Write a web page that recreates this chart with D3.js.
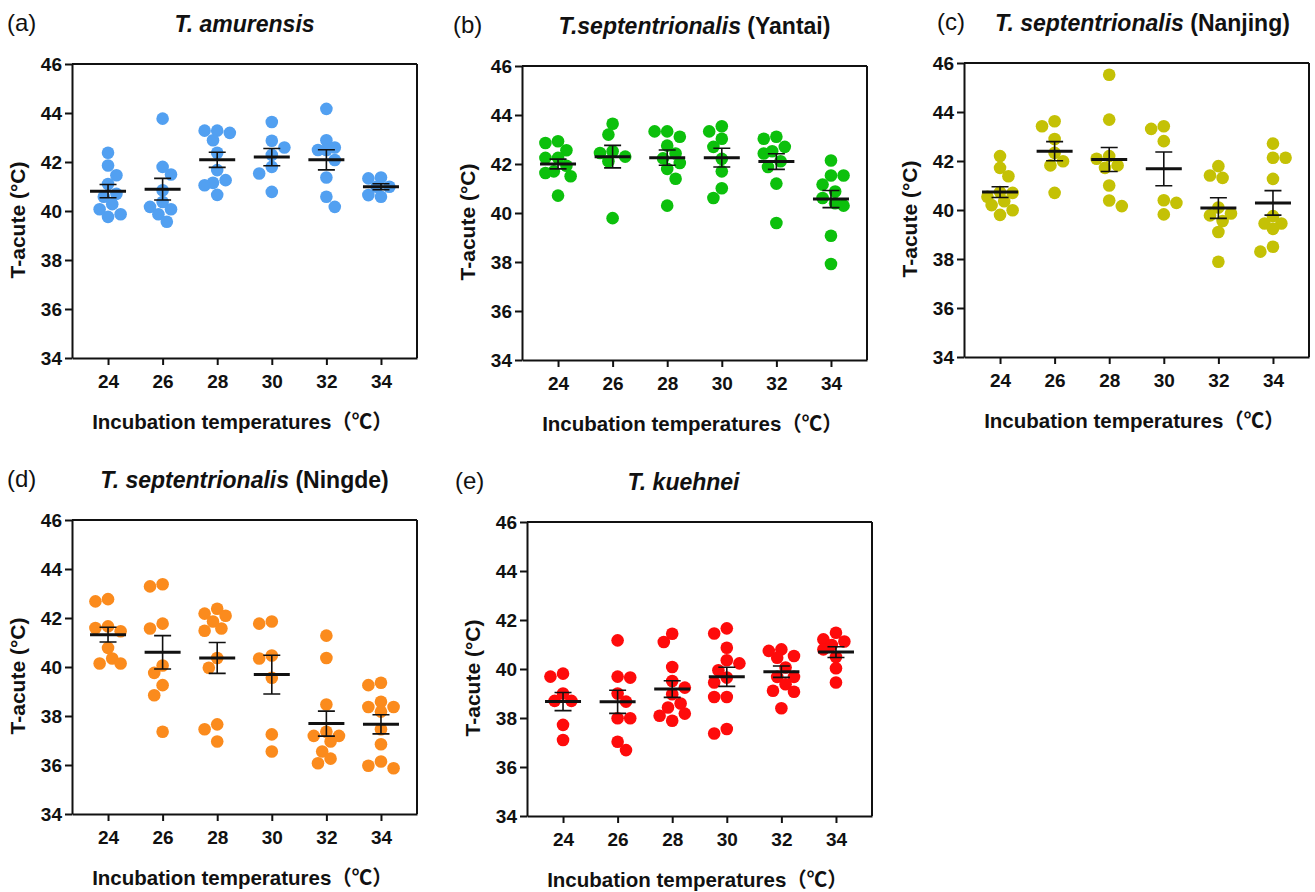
<!DOCTYPE html>
<html>
<head>
<meta charset="utf-8">
<script src="https://cdn.jsdelivr.net/npm/d3@7"></script>
<style>
  body { margin: 0; background: #fff; }
  svg { display: block; font-family: "Liberation Sans", Arial, "Noto Sans CJK SC", sans-serif; }
</style>
</head>
<body>
<svg id="chart" width="1315" height="892"></svg>
<script>
// x categories and y ticks shared by all panels
var temps = [24, 26, 28, 30, 32, 34];
var yTicks = [34, 36, 38, 40, 42, 44, 46];

// (a) T. amurensis
var amurensisVals = [
  [42.38, 41.86, 41.46, 41.10, 40.70, 40.58, 40.28, 40.07, 39.87, 39.76],
  [43.77, 41.80, 41.49, 40.85, 40.37, 40.17, 40.07, 39.87, 39.56],
  [43.28, 43.28, 43.19, 42.89, 42.38, 41.67, 41.26, 41.15, 41.05, 40.66],
  [43.63, 42.87, 42.59, 42.29, 41.80, 41.53, 40.78],
  [44.17, 42.89, 42.59, 42.49, 42.49, 42.08, 41.37, 40.58, 40.17],
  [41.37, 41.33, 40.99, 40.99, 40.65, 40.58]
];
var amurensisMean = [40.81, 40.89, 42.09, 42.20, 42.09, 40.99];
var amurensisSem = [0.27, 0.44, 0.31, 0.35, 0.41, 0.12];

// (b) T. septentrionalis (Yantai)
var yantaiVals = [
  [42.93, 42.86, 42.56, 42.25, 42.25, 41.93, 41.70, 41.63, 41.50, 40.71],
  [43.64, 43.20, 42.52, 42.45, 42.30, 42.11, 39.79],
  [43.33, 43.33, 43.11, 42.75, 42.43, 42.23, 42.04, 41.80, 41.40, 40.30],
  [43.54, 43.33, 43.03, 42.70, 42.21, 41.70, 41.01, 40.61],
  [43.11, 43.03, 42.70, 42.52, 42.43, 42.11, 41.88, 41.20, 39.59],
  [42.14, 41.53, 41.53, 41.16, 40.88, 40.61, 40.40, 40.30, 39.07, 37.92]
];
var yantaiMean = [42.00, 42.30, 42.26, 42.26, 42.10, 40.57];
var yantaiSem = [0.20, 0.46, 0.31, 0.38, 0.32, 0.35];

// (c) T. septentrionalis (Nanjing)
var nanjingVals = [
  [42.20, 41.72, 41.38, 40.73, 40.70, 40.54, 40.36, 40.20, 39.99, 39.80],
  [43.62, 43.42, 42.90, 42.33, 41.99, 41.82, 40.70],
  [45.52, 43.69, 42.20, 42.09, 41.82, 41.72, 41.00, 40.39, 40.16],
  [43.42, 43.31, 42.81, 40.40, 40.29, 39.82],
  [41.79, 41.41, 41.31, 40.10, 39.86, 39.78, 39.55, 39.10, 37.89],
  [42.71, 42.13, 42.13, 41.27, 39.75, 39.45, 39.45, 39.23, 38.50, 38.30]
];
var nanjingMean = [40.73, 42.40, 42.06, 41.68, 40.08, 40.29];
var nanjingSem = [0.22, 0.39, 0.49, 0.69, 0.42, 0.50];

// (d) T. septentrionalis (Ningde)
var ningdeVals = [
  [42.77, 42.68, 41.66, 41.59, 41.46, 40.78, 40.35, 40.14, 40.14],
  [43.38, 43.29, 41.77, 41.57, 40.06, 39.76, 39.26, 38.85, 37.36],
  [42.38, 42.18, 42.09, 41.86, 41.57, 41.48, 40.37, 39.97, 37.66, 37.46, 36.96],
  [41.86, 41.77, 40.47, 40.35, 39.56, 37.25, 36.55],
  [41.28, 40.37, 38.47, 37.36, 37.19, 37.19, 36.96, 36.55, 36.26, 36.07],
  [39.36, 39.26, 38.58, 38.37, 38.37, 38.18, 37.46, 36.85, 36.14, 35.97, 35.87]
];
var ningdeMean = [41.32, 40.60, 40.37, 39.69, 37.69, 37.66];
var ningdeSem = [0.30, 0.68, 0.63, 0.79, 0.51, 0.39];

// (e) T. kuehnei
var kuehneiVals = [
  [39.81, 39.69, 39.00, 38.70, 38.70, 37.72, 37.10],
  [41.17, 39.69, 39.65, 39.00, 38.67, 37.99, 37.99, 37.03, 36.69],
  [41.44, 41.10, 40.08, 39.51, 39.24, 38.97, 38.59, 38.43, 38.18, 38.09, 37.89],
  [41.66, 41.45, 40.87, 40.36, 40.23, 39.95, 39.65, 39.45, 38.86, 38.86, 37.55, 37.37],
  [40.80, 40.74, 40.53, 40.46, 40.06, 39.68, 39.68, 39.38, 39.11, 39.07, 38.40],
  [41.48, 41.21, 41.12, 40.98, 40.80, 40.49, 40.03, 39.45]
];
var kuehneiMean = [38.67, 38.66, 39.18, 39.68, 39.89, 40.69];
var kuehneiSem = [0.37, 0.47, 0.34, 0.39, 0.23, 0.22];

var xTitle = 'Incubation temperatures（℃）';
var yTitle = 'T-acute (°C)';

var svg = d3.select('#chart');
var pw = 345, ph = 294;

var panels = [
  {tag: '(a)', it: 'T. amurensis', rest: '', vals: amurensisVals, mean: amurensisMean, sem: amurensisSem,
   color: '#52a0f1', left: 72, top: 64, tagX: 7, titleDx: 0},
  {tag: '(b)', it: 'T.septentrionalis', rest: ' (Yantai)', vals: yantaiVals, mean: yantaiMean, sem: yantaiSem,
   color: '#0cc00c', left: 522, top: 66, tagX: 453, titleDx: 0},
  {tag: '(c)', it: 'T. septentrionalis', rest: ' (Nanjing)', vals: nanjingVals, mean: nanjingMean, sem: nanjingSem,
   color: '#c4c105', left: 964, top: 63, tagX: 937, titleDx: 6},
  {tag: '(d)', it: 'T. septentrionalis', rest: ' (Ningde)', vals: ningdeVals, mean: ningdeMean, sem: ningdeSem,
   color: '#fb8b1d', left: 72, top: 520, tagX: 7, titleDx: 0},
  {tag: '(e)', it: 'T. kuehnei', rest: '', vals: kuehneiVals, mean: kuehneiMean, sem: kuehneiSem,
   color: '#fe0b0b', left: 527, top: 522, tagX: 455, titleDx: -16}
];

// simple beeswarm: place points top-down in a few half-column slots,
// falling back to the least crowded slot when all are taken
function swarm(values, yScale, step, maxK, minDist) {
  var placed = [];
  var sorted = values.slice().sort(function(a, b) { return b - a; });
  sorted.forEach(function(v, n) {
    var py = yScale(v);
    var sign = n % 2 ? -1 : 1;
    var cands = [0];
    for (var k = 1; k <= maxK; k++) cands.push(sign * k * step, -sign * k * step);
    var best = null, bestD = -1;
    for (var c = 0; c < cands.length; c++) {
      var dmin = d3.min(placed, function(p) {
        var dx = p.dx - cands[c], dy = p.y - py;
        return Math.sqrt(dx * dx + dy * dy);
      });
      if (dmin === undefined) dmin = Infinity;
      if (dmin >= minDist) { best = cands[c]; break; }
      if (dmin > bestD) { bestD = dmin; best = cands[c]; }
    }
    placed.push({v: v, y: py, dx: best});
  });
  return placed;
}

panels.forEach(function(p) {
  var g = svg.append('g').attr('transform', 'translate(' + p.left + ',' + p.top + ')');

  var x = d3.scalePoint().domain(temps).range([0, pw]).padding(0.66);
  var y = d3.scaleLinear().domain([34, 46]).range([ph, 0]);

  // frame top/right
  g.append('line').attr('x1', 0).attr('x2', pw).attr('y1', 0).attr('y2', 0)
    .attr('stroke', '#111').attr('stroke-width', 2);
  g.append('line').attr('x1', pw).attr('x2', pw).attr('y1', 0).attr('y2', ph)
    .attr('stroke', '#111').attr('stroke-width', 2);

  var yAxis = g.append('g').call(d3.axisLeft(y).tickValues(yTicks).tickSize(7).tickSizeOuter(0).tickPadding(3));
  var xAxis = g.append('g').attr('transform', 'translate(0,' + ph + ')')
    .call(d3.axisBottom(x).tickSize(7).tickSizeOuter(0).tickPadding(10));
  [yAxis, xAxis].forEach(function(a) {
    a.select('.domain').attr('stroke', '#111').attr('stroke-width', 2);
    a.selectAll('.tick line').attr('stroke', '#111').attr('stroke-width', 2);
    a.selectAll('.tick text').attr('fill', '#111').style('font-size', '19px').style('font-weight', 'bold')
      .style('font-family', '"Liberation Sans", Arial, sans-serif');
  });

  // dots
  p.vals.forEach(function(vals, i) {
    var pts = swarm(vals, y, 4.2, 3, 11);
    g.selectAll('.dot' + i)
      .data(pts)
      .join('circle')
      .attr('class', 'dot' + i)
      .attr('cx', function(d) { return x(temps[i]) + d.dx; })
      .attr('cy', function(d) { return d.y; })
      .attr('r', 6.3)
      .attr('fill', p.color);
  });

  // mean and SEM
  var stats = temps.map(function(t, i) { return {t: t, m: p.mean[i], s: p.sem[i]}; });
  g.selectAll('.sem')
    .data(stats)
    .join('path')
    .attr('class', 'sem')
    .attr('d', function(d) {
      var cx = x(d.t), y1 = y(d.m + d.s), y2 = y(d.m - d.s);
      return 'M' + (cx - 8.5) + ',' + y1 + 'H' + (cx + 8.5) + 'M' + cx + ',' + y1 + 'V' + y2 +
             'M' + (cx - 8.5) + ',' + y2 + 'H' + (cx + 8.5);
    })
    .attr('stroke', '#111').attr('stroke-width', 1.6).attr('fill', 'none');
  g.selectAll('.mean')
    .data(stats)
    .join('line')
    .attr('class', 'mean')
    .attr('x1', function(d) { return x(d.t) - 18; })
    .attr('x2', function(d) { return x(d.t) + 18; })
    .attr('y1', function(d) { return y(d.m); })
    .attr('y2', function(d) { return y(d.m); })
    .attr('stroke', '#111').attr('stroke-width', 3);

  // axis titles
  g.append('text')
    .attr('x', pw / 2 - 2).attr('y', ph + 71)
    .attr('text-anchor', 'middle')
    .style('font-size', '20.5px').style('font-weight', 'bold').attr('fill', '#111')
    .text(xTitle);
  g.append('text')
    .attr('transform', 'translate(-47,' + (ph / 2 + 9) + ') rotate(-90)')
    .attr('text-anchor', 'middle')
    .style('font-size', '21px').style('font-weight', 'bold').attr('fill', '#111')
    .text(yTitle);

  // panel tag and title
  svg.append('text')
    .attr('x', p.tagX).attr('y', p.top - 33)
    .style('font-size', '24px').attr('fill', '#111')
    .text(p.tag);
  var t = svg.append('text')
    .attr('x', p.left + pw / 2 + p.titleDx).attr('y', p.top - 32)
    .attr('text-anchor', 'middle')
    .style('font-size', '23px').style('font-weight', 'bold').attr('fill', '#111');
  t.append('tspan').style('font-style', 'italic').text(p.it);
  if (p.rest) t.append('tspan').text(p.rest);
});
</script>
</body>
</html>
